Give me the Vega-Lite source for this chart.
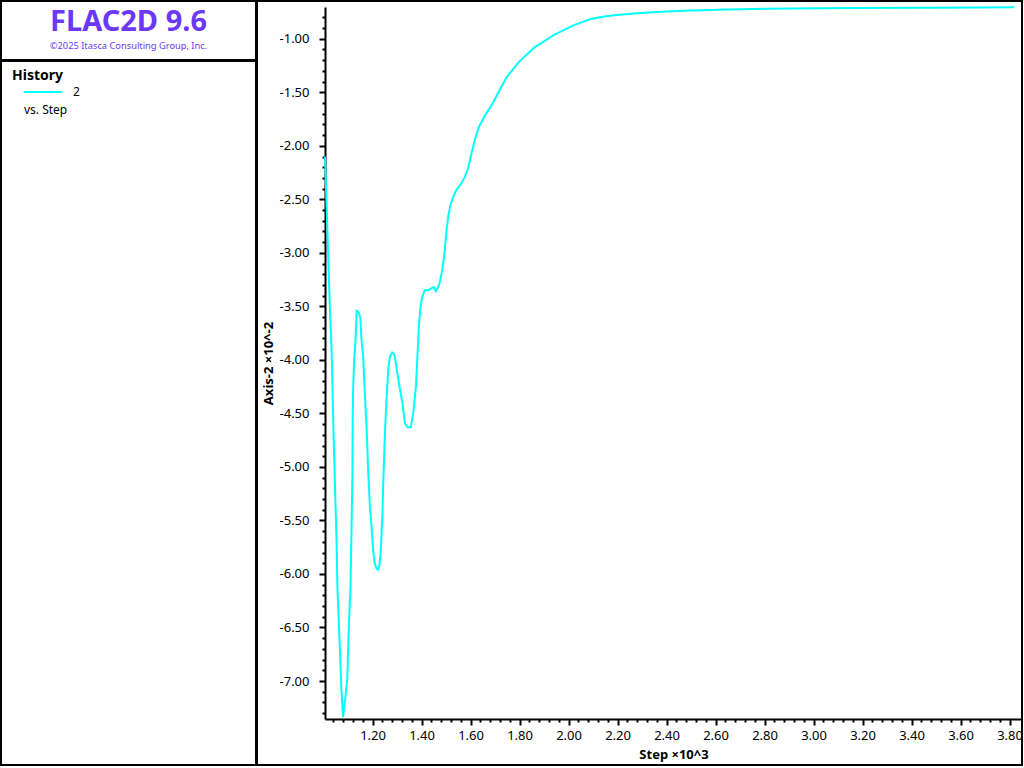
{
  "$schema": "https://vega.github.io/schema/vega-lite/v6.json",
  "padding": 0,
  "background": "white",
  "spacing": -2,
  "config": {
    "view": {"stroke": "black", "strokeWidth": 2},
    "font": "Noto Sans"
  },
  "hconcat": [
    {
      "spacing": -1,
      "vconcat": [
        {
          "width": 255,
          "height": 59,
          "view": {"stroke": "black", "strokeWidth": 2},
          "data": {"values": [{"k": 0}]},
          "mark": {"type": "point", "opacity": 0},
          "title": {
            "text": "FLAC2D 9.6",
            "subtitle": "©2025 Itasca Consulting Group, Inc.",
            "anchor": "middle",
            "frame": "group",
            "font": "Noto Sans",
            "fontSize": 29,
            "fontWeight": "bold",
            "color": "#6B38F5",
            "subtitleFont": "Noto Sans",
            "subtitleFontSize": 9.3,
            "subtitleColor": "#6B38F5",
            "subtitlePadding": 5,
            "offset": -50
          }
        },
        {
          "width": 255,
          "height": 704,
          "view": {"stroke": "black", "strokeWidth": 2},
          "data": {"values": [{"k": 0}]},
          "mark": {"type": "line", "opacity": 0},
          "title": {
            "text": "vs. Step",
            "anchor": "start",
            "frame": "group",
            "dx": 23,
            "font": "Noto Sans",
            "fontSize": 12,
            "fontWeight": "normal",
            "color": "black",
            "offset": -56
          },
          "encoding": {
            "color": {
              "datum": "2",
              "type": "nominal",
              "scale": {"domain": ["2"], "range": ["#00FFFF"]},
              "legend": {
                "title": "History",
                "orient": "none",
                "legendX": 11,
                "legendY": 68,
                "padding": 0,
                "titleFont": "Noto Sans",
                "titleFontSize": 14,
                "titleFontWeight": "bold",
                "titleColor": "black",
                "titlePadding": -11,
                "symbolType": "stroke",
                "symbolSize": 1444,
                "symbolStrokeWidth": 2,
                "symbolOpacity": 1,
                "symbolOffset": 11,
                "labelOffset": 10,
                "labelFont": "Noto Sans",
                "labelFontSize": 12,
                "labelColor": "black"
              }
            }
          }
        }
      ]
    },
    {
      "width": 765,
      "height": 764,
      "data": {
        "values": [
          {"step": 1.006, "axis2": -2.10},
          {"step": 1.012, "axis2": -2.53},
          {"step": 1.018, "axis2": -2.93},
          {"step": 1.022, "axis2": -3.25},
          {"step": 1.027, "axis2": -3.58},
          {"step": 1.033, "axis2": -3.91},
          {"step": 1.037, "axis2": -4.31},
          {"step": 1.041, "axis2": -4.70},
          {"step": 1.045, "axis2": -5.03},
          {"step": 1.049, "axis2": -5.36},
          {"step": 1.053, "axis2": -5.68},
          {"step": 1.057, "axis2": -6.15},
          {"step": 1.063, "axis2": -6.48},
          {"step": 1.069, "axis2": -6.85},
          {"step": 1.073, "axis2": -7.08},
          {"step": 1.078, "axis2": -7.27},
          {"step": 1.080, "axis2": -7.336},
          {"step": 1.089, "axis2": -7.16},
          {"step": 1.097, "axis2": -6.97},
          {"step": 1.103, "axis2": -6.51},
          {"step": 1.110, "axis2": -6.13},
          {"step": 1.114, "axis2": -5.62},
          {"step": 1.118, "axis2": -5.05},
          {"step": 1.119, "axis2": -4.53},
          {"step": 1.121, "axis2": -4.26},
          {"step": 1.125, "axis2": -4.00},
          {"step": 1.131, "axis2": -3.81},
          {"step": 1.135, "axis2": -3.54},
          {"step": 1.142, "axis2": -3.55},
          {"step": 1.150, "axis2": -3.60},
          {"step": 1.155, "axis2": -3.81},
          {"step": 1.162, "axis2": -3.97},
          {"step": 1.166, "axis2": -4.19},
          {"step": 1.171, "axis2": -4.42},
          {"step": 1.177, "axis2": -4.70},
          {"step": 1.182, "axis2": -5.03},
          {"step": 1.189, "axis2": -5.36},
          {"step": 1.196, "axis2": -5.56},
          {"step": 1.203, "axis2": -5.79},
          {"step": 1.209, "axis2": -5.90},
          {"step": 1.216, "axis2": -5.95},
          {"step": 1.223, "axis2": -5.96},
          {"step": 1.228, "axis2": -5.92},
          {"step": 1.233, "axis2": -5.80},
          {"step": 1.240, "axis2": -5.47},
          {"step": 1.245, "axis2": -5.06},
          {"step": 1.251, "axis2": -4.66},
          {"step": 1.257, "axis2": -4.37},
          {"step": 1.264, "axis2": -4.09},
          {"step": 1.271, "axis2": -3.97},
          {"step": 1.280, "axis2": -3.93},
          {"step": 1.286, "axis2": -3.94},
          {"step": 1.291, "axis2": -3.97},
          {"step": 1.301, "axis2": -4.12},
          {"step": 1.311, "axis2": -4.26},
          {"step": 1.322, "axis2": -4.40},
          {"step": 1.332, "axis2": -4.59},
          {"step": 1.343, "axis2": -4.63},
          {"step": 1.356, "axis2": -4.63},
          {"step": 1.366, "axis2": -4.50},
          {"step": 1.377, "axis2": -4.25},
          {"step": 1.384, "axis2": -3.93},
          {"step": 1.389, "axis2": -3.69},
          {"step": 1.396, "axis2": -3.50},
          {"step": 1.403, "axis2": -3.41},
          {"step": 1.413, "axis2": -3.35},
          {"step": 1.427, "axis2": -3.35},
          {"step": 1.441, "axis2": -3.33},
          {"step": 1.450, "axis2": -3.32},
          {"step": 1.458, "axis2": -3.36},
          {"step": 1.468, "axis2": -3.32},
          {"step": 1.475, "axis2": -3.27},
          {"step": 1.482, "axis2": -3.19},
          {"step": 1.489, "axis2": -3.09},
          {"step": 1.495, "axis2": -2.97},
          {"step": 1.502, "axis2": -2.79},
          {"step": 1.509, "axis2": -2.66},
          {"step": 1.518, "axis2": -2.55},
          {"step": 1.529, "axis2": -2.48},
          {"step": 1.543, "axis2": -2.41},
          {"step": 1.563, "axis2": -2.35},
          {"step": 1.577, "axis2": -2.29},
          {"step": 1.591, "axis2": -2.20},
          {"step": 1.604, "axis2": -2.07},
          {"step": 1.618, "axis2": -1.94},
          {"step": 1.633, "axis2": -1.83},
          {"step": 1.653, "axis2": -1.74},
          {"step": 1.686, "axis2": -1.62},
          {"step": 1.714, "axis2": -1.50},
          {"step": 1.747, "axis2": -1.36},
          {"step": 1.796, "axis2": -1.22},
          {"step": 1.861, "axis2": -1.08},
          {"step": 1.943, "axis2": -0.96},
          {"step": 2.024, "axis2": -0.87},
          {"step": 2.094, "axis2": -0.813},
          {"step": 2.135, "axis2": -0.797},
          {"step": 2.176, "axis2": -0.783},
          {"step": 2.257, "axis2": -0.766},
          {"step": 2.310, "axis2": -0.757},
          {"step": 2.380, "axis2": -0.748},
          {"step": 2.473, "axis2": -0.738},
          {"step": 2.612, "axis2": -0.729},
          {"step": 2.800, "axis2": -0.720},
          {"step": 3.147, "axis2": -0.712},
          {"step": 3.500, "axis2": -0.709},
          {"step": 3.818, "axis2": -0.705}
        ]
      },
      "mark": {"type": "line", "color": "#00FFFF", "strokeWidth": 2},
      "encoding": {
        "x": {
          "field": "step",
          "type": "quantitative",
          "scale": {"domain": [1.006, 3.8507], "range": [68, 765], "zero": false, "nice": false},
          "axis": {
            "title": "Step ×10^3",
            "orient": "bottom",
            "offset": -46,
            "grid": false,
            "values": [1.04,1.08,1.12,1.16,1.2,1.24,1.28,1.32,1.36,1.4,1.44,1.48,1.52,1.56,1.6,1.64,1.68,1.72,1.76,1.8,1.84,1.88,1.92,1.96,2,2.04,2.08,2.12,2.16,2.2,2.24,2.28,2.32,2.36,2.4,2.44,2.48,2.52,2.56,2.6,2.64,2.68,2.72,2.76,2.8,2.84,2.88,2.92,2.96,3,3.04,3.08,3.12,3.16,3.2,3.24,3.28,3.32,3.36,3.4,3.44,3.48,3.52,3.56,3.6,3.64,3.68,3.72,3.76,3.8],
            "labelExpr": "round(datum.value*100) % 20 === 0 ? format(datum.value, '.2f') : ''",
            "tickSize": {"condition": {"test": "round(datum.value*100) % 20 === 0", "value": 6}, "value": 3},
            "tickWidth": 2,
            "tickColor": "black",
            "domainColor": "black",
            "domainWidth": 2,
            "labelFont": "Noto Sans",
            "labelFontSize": 13,
            "labelColor": "black",
            "labelPadding": 4,
            "labelOverlap": false,
            "labelFlush": false,
            "titleFont": "Noto Sans",
            "titleFontSize": 13,
            "titleFontWeight": "bold",
            "titleColor": "black",
            "titlePadding": 6
          }
        },
        "y": {
          "field": "axis2",
          "type": "quantitative",
          "scale": {"domain": [-7.355, -0.703], "range": [718, 6], "zero": false, "nice": false},
          "axis": {
            "title": "Axis-2 ×10^-2",
            "orient": "left",
            "offset": -68,
            "grid": false,
            "values": [-7.3,-7.2,-7.1,-7,-6.9,-6.8,-6.7,-6.6,-6.5,-6.4,-6.3,-6.2,-6.1,-6,-5.9,-5.8,-5.7,-5.6,-5.5,-5.4,-5.3,-5.2,-5.1,-5,-4.9,-4.8,-4.7,-4.6,-4.5,-4.4,-4.3,-4.2,-4.1,-4,-3.9,-3.8,-3.7,-3.6,-3.5,-3.4,-3.3,-3.2,-3.1,-3,-2.9,-2.8,-2.7,-2.6,-2.5,-2.4,-2.3,-2.2,-2.1,-2,-1.9,-1.8,-1.7,-1.6,-1.5,-1.4,-1.3,-1.2,-1.1,-1,-0.9,-0.8,-0.7],
            "labelExpr": "round(abs(datum.value)*10) % 5 === 0 ? '-' + format(abs(datum.value), '.2f') : ''",
            "tickSize": {"condition": {"test": "round(abs(datum.value)*10) % 5 === 0", "value": 6}, "value": 3},
            "tickWidth": 2,
            "tickColor": "black",
            "domainColor": "black",
            "domainWidth": 2,
            "labelFont": "Noto Sans",
            "labelFontSize": 13,
            "labelColor": "black",
            "labelPadding": 10,
            "labelOverlap": false,
            "labelFlush": false,
            "titleFont": "Noto Sans",
            "titleFontSize": 13,
            "titleFontWeight": "bold",
            "titleColor": "black",
            "titlePadding": 4
          }
        }
      }
    }
  ]
}
